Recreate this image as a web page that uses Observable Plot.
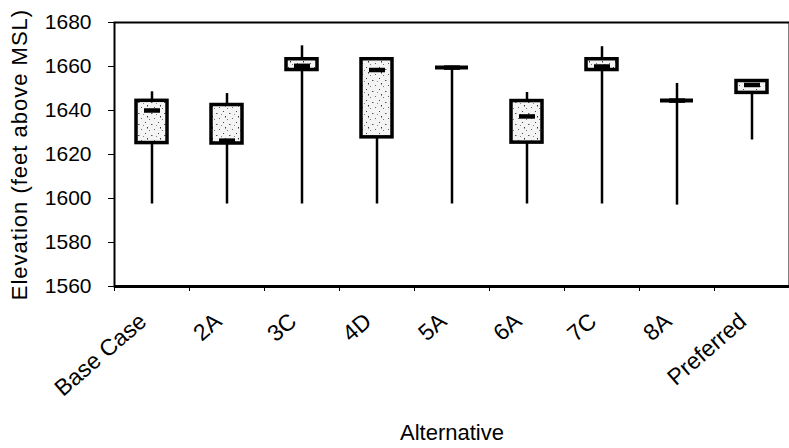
<!DOCTYPE html>
<html>
<head>
<meta charset="utf-8">
<script src="https://cdn.jsdelivr.net/npm/d3@7"></script>
<script src="https://cdn.jsdelivr.net/npm/@observablehq/plot@0.6"></script>
<style>
  html, body { margin: 0; padding: 0; background: #fff; }
  svg { display: block; }
  .ylab { letter-spacing: 1px; }
</style>
</head>
<body>
<div id="chart"></div>
<script>
// ---- data ----
const categories = ["Base Case", "2A", "3C", "4D", "5A", "6A", "7C", "8A", "Preferred"];
const minVals    = [1597.5, 1597.5, 1597.5, 1597.5, 1597.5, 1597.5, 1597.5, 1597.0, 1626.6];
const q1Vals     = [1625.2, 1625.0, 1658.4, 1627.8, 1659.5, 1625.4, 1658.4, 1644.5, 1648.0];
const medianVals = [1640.0, 1626.3, 1660.3, 1658.4, 1659.5, 1637.3, 1660.0, 1644.5, 1651.6];
const q3Vals     = [1644.4, 1642.5, 1663.3, 1663.3, 1659.5, 1644.3, 1663.3, 1644.5, 1653.4];
const maxVals    = [1648.5, 1647.7, 1669.4, 1663.3, 1659.5, 1648.2, 1669.0, 1652.3, 1653.4];
const yTicks     = [1560, 1580, 1600, 1620, 1640, 1660, 1680];
const xTitle = "Alternative";
const yTitle = "Elevation (feet above MSL)";

const rows = categories.map((c, i) => ({
  cat: c, min: minVals[i], q1: q1Vals[i], med: medianVals[i], q3: q3Vals[i], max: maxVals[i]
}));

// ---- layout ----
const W = 789, H = 448, ML = 114, MR = 0, MT = 22, MB = 162;
const band = (W - ML - MR) / categories.length;
const FONT = "'Liberation Sans', Arial, Helvetica, sans-serif";

const svg = Plot.plot({
  width: W, height: H,
  marginLeft: ML, marginRight: MR, marginTop: MT, marginBottom: MB,
  style: { fontFamily: FONT, color: "#000", background: "#fff", overflow: "visible" },
  x: { domain: categories, padding: 0, axis: null },
  y: { domain: [yTicks[0], yTicks[yTicks.length - 1]], axis: null },
  marks: [
    // y axis ticks & labels
    Plot.axisY({ ticks: yTicks, tickSize: 6, tickPadding: 17, fontSize: 21, label: null,
                 tickFormat: d => String(d), stroke: "#000" }),
    // x axis tick marks at category boundaries
    Plot.axisX({ ticks: categories, tickSize: 5, text: null, label: null, dx: -band / 2, stroke: "#000" }),
    // x tick labels, rotated
    Plot.text(categories, { x: d => d, frameAnchor: "bottom", rotate: -41, textAnchor: "end",
                            lineAnchor: "bottom", dx: -4, dy: 37, fontSize: 23, fill: "#000" }),
    // axis titles
    Plot.text([xTitle], { frameAnchor: "bottom", lineAnchor: "bottom", textAnchor: "middle",
                          dy: 153, fontSize: 22, fill: "#000" }),
    Plot.text([yTitle], { frameAnchor: "left", rotate: -90, textAnchor: "middle", lineAnchor: "bottom",
                          dx: -88, dy: 0, fontSize: 22, fill: "#000", className: "ylab" }),
    // frame
    Plot.frame({ stroke: "#000", strokeWidth: 2 }),
    Plot.ruleY([yTicks[0]], { stroke: "#000", strokeWidth: 3 }),
    // whiskers
    Plot.ruleX(rows, { x: "cat", y1: "min", y2: "max", stroke: "#000", strokeWidth: 2.5 }),
    // boxes
    Plot.barY(rows, { x: "cat", y1: "q1", y2: "q3", insetLeft: 22, insetRight: 22,
                      fill: "url(#speckle)", stroke: "#000", strokeWidth: 3.5 }),
    // collapsed boxes (q1 == q3) drawn as a line
    Plot.tickY(rows, { filter: d => d.q1 === d.q3, x: "cat", y: "q3", insetLeft: 21, insetRight: 21,
                       stroke: "#000", strokeWidth: 4 }),
    // medians
    Plot.tickY(rows, { x: "cat", y: "med", insetLeft: 30, insetRight: 29, stroke: "#000", strokeWidth: 4.5 })
  ]
});

// speckled fill pattern for the boxes
const ns = "http://www.w3.org/2000/svg";
const defs = document.createElementNS(ns, "defs");
defs.innerHTML = `
  <pattern id="speckle" width="13" height="11" patternUnits="userSpaceOnUse">
    <rect width="13" height="11" fill="#f4f4f4"/>
    <rect x="2" y="1" width="1" height="1" fill="#444"/>
    <rect x="8" y="3" width="1.5" height="1" fill="#555"/>
    <rect x="4" y="6" width="1" height="1.5" fill="#333"/>
    <rect x="11" y="8" width="1" height="1" fill="#666"/>
    <rect x="6" y="9" width="1" height="1" fill="#777"/>
    <rect x="0" y="4" width="1" height="1" fill="#888"/>
  </pattern>`;
svg.insertBefore(defs, svg.firstChild);

document.getElementById("chart").appendChild(svg);
</script>
</body>
</html>
